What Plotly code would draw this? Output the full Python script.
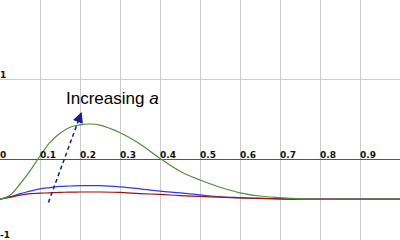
import plotly.graph_objects as go

x_vals = [0, 0.025, 0.05, 0.075, 0.1, 0.125, 0.15, 0.175, 0.2, 0.225, 0.25, 0.3, 0.35, 0.4,
          0.45, 0.5, 0.55, 0.6, 0.65, 0.7, 0.75, 0.8, 0.85, 0.9, 0.95, 1.0]
green_vals = [-0.5, -0.45, -0.31, -0.146, 0.04, 0.21, 0.325, 0.40, 0.43, 0.44, 0.425, 0.33, 0.19,
              0.01, -0.15, -0.26, -0.35, -0.42, -0.46, -0.48, -0.495, -0.5, -0.5, -0.5, -0.5, -0.5]
blue_vals = [-0.5, -0.47, -0.43, -0.40, -0.37, -0.355, -0.34, -0.335, -0.33, -0.33, -0.33, -0.345,
             -0.37, -0.40, -0.42, -0.445, -0.47, -0.48, -0.49, -0.497, -0.5, -0.5, -0.5, -0.5, -0.5, -0.5]
red_vals = [-0.5, -0.475, -0.45, -0.43, -0.425, -0.42, -0.415, -0.412, -0.41, -0.41, -0.41, -0.415,
            -0.43, -0.44, -0.455, -0.465, -0.475, -0.485, -0.49, -0.497, -0.5, -0.5, -0.5, -0.5, -0.5, -0.5]

x_tick_vals = [0, 0.1, 0.2, 0.3, 0.4, 0.5, 0.6, 0.7, 0.8, 0.9]
x_tick_text = ["0", "0.1", "0.2", "0.3", "0.4", "0.5", "0.6", "0.7", "0.8", "0.9"]
y_tick_vals = [1, -1]
y_tick_text = ["1", "-1"]

arrow_start = (0.121, -0.54)
arrow_end = (0.204, 0.59)
label_text = "Increasing <i>a</i>"
label_pos = (0.16, 0.76)

fig = go.Figure()
fig.add_trace(go.Scatter(x=x_vals, y=blue_vals, mode="lines", line=dict(color="#2a3cf0", width=1.2, shape="spline")))
fig.add_trace(go.Scatter(x=x_vals, y=red_vals, mode="lines", line=dict(color="#9a1010", width=1.2, shape="spline")))
fig.add_trace(go.Scatter(x=x_vals, y=green_vals, mode="lines", line=dict(color="#4f8f3a", width=1.2, shape="spline")))

# dashed arrow shaft
fig.add_trace(go.Scatter(x=[arrow_start[0], arrow_end[0]], y=[arrow_start[1], arrow_end[1]], mode="lines",
                         line=dict(color="#1c1c8c", width=1.5, dash="4px,3px")))

ann = []
dx = arrow_end[0] - arrow_start[0]
dy = arrow_end[1] - arrow_start[1]
ann.append(dict(x=arrow_end[0], y=arrow_end[1], ax=arrow_end[0] - dx * 0.05, ay=arrow_end[1] - dy * 0.05,
                xref="x", yref="y", axref="x", ayref="y", text="", showarrow=True,
                arrowhead=2, arrowsize=1.4, arrowwidth=1.5, arrowcolor="#1c1c8c"))
ann.append(dict(x=label_pos[0], y=label_pos[1], xref="x", yref="y", text=label_text, showarrow=False,
                xanchor="left", yanchor="middle", font=dict(family="Liberation Sans", size=17, color="black")))
for v, t in zip(x_tick_vals, x_tick_text):
    ann.append(dict(x=v, y=0, xref="x", yref="y", text="<b>" + t + "</b>", showarrow=False,
                    xanchor="left", yanchor="bottom", xshift=-2, yshift=-3,
                    font=dict(family="DejaVu Sans", size=9, color="#111")))
for v, t in zip(y_tick_vals, y_tick_text):
    ann.append(dict(x=0, y=v, xref="x", yref="y", text="<b>" + t + "</b>", showarrow=False,
                    xanchor="left", yanchor="bottom", xshift=-2, yshift=-3,
                    font=dict(family="DejaVu Sans", size=9, color="#111")))

fig.update_layout(
    width=400, height=240, margin=dict(l=0, r=0, t=0, b=0),
    plot_bgcolor="white", paper_bgcolor="white", showlegend=False,
    annotations=ann,
    xaxis=dict(range=[0, 1], dtick=0.1, tick0=0, showgrid=True, gridcolor="#cccccc", gridwidth=1.3,
               zeroline=False, showticklabels=False, showline=False),
    yaxis=dict(range=[-1.01, 1.99], dtick=1, tick0=0, showgrid=True, gridcolor="#cccccc", gridwidth=1.3,
               zeroline=True, zerolinecolor="#555555", zerolinewidth=1.3, showticklabels=False, showline=False),
)
fig.write_html("out.html", config={"displayModeBar": False},
               post_script="document.body.style.margin='0';document.body.style.overflow='hidden';")
